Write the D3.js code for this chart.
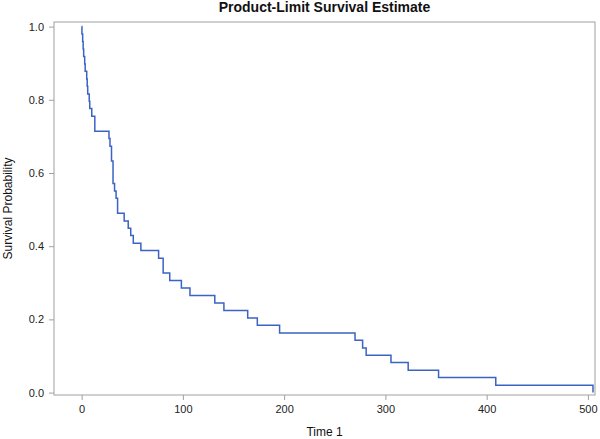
<!DOCTYPE html>
<html>
<head>
<meta charset="utf-8">
<script src="https://cdn.jsdelivr.net/npm/d3@7"></script>
<style>
  body { margin: 0; background: #fff; }
  #vis { width: 600px; height: 439px; }
  .axis text { font-family: "Liberation Sans", Arial, sans-serif; font-size: 11px; fill: #222; }
  .axis path, .axis line { stroke: #a0a0a0; }
</style>
</head>
<body>
<div id="vis"></div>
<script>
// event times and survival after each event
var eventTimes = [0, 0.3, 1, 1.5, 2, 3, 3.5, 5, 5.5, 6, 7.5, 8, 10, 13, 13,
  27, 28, 29.5, 29.5, 31, 31, 31, 32.5, 34, 35.5, 35.5, 42, 46, 48.5, 51, 58.5,
  76, 80.5, 80.5, 87, 98.5, 107, 131.5, 140.5, 164, 173.5, 195.5, 270, 277.5,
  281, 305.5, 322.5, 352.5, 409, 505];
var survival = [1, 0.980, 0.959, 0.939, 0.918, 0.898, 0.878, 0.857, 0.837, 0.816,
  0.796, 0.776, 0.755, 0.735, 0.714, 0.694, 0.673, 0.653, 0.633, 0.612, 0.592,
  0.571, 0.551, 0.531, 0.510, 0.490, 0.469, 0.449, 0.429, 0.408, 0.388, 0.367,
  0.347, 0.327, 0.306, 0.286, 0.265, 0.245, 0.224, 0.204, 0.184, 0.163, 0.143,
  0.122, 0.102, 0.082, 0.061, 0.041, 0.020, 0];
var xTicks = [0, 100, 200, 300, 400, 500];
var yTicks = [0, 0.2, 0.4, 0.6, 0.8, 1.0];

var width = 600, height = 439;
var margin = { top: 22, right: 5, bottom: 44, left: 54 };

var svg = d3.select('#vis')
  .append('svg')
  .attr('width', width)
  .attr('height', height);

var x_scale = d3.scaleLinear()
  .domain([-27.3, 507])
  .range([margin.left, width - margin.right]);

var y_scale = d3.scaleLinear()
  .domain([-0.0066, 1.0126])
  .range([height - margin.bottom, margin.top]);

// plot frame
svg.append('rect')
  .attr('x', margin.left)
  .attr('y', margin.top)
  .attr('width', width - margin.right - margin.left)
  .attr('height', height - margin.bottom - margin.top)
  .attr('fill', 'none')
  .attr('stroke', '#a0a0a0')
  .attr('stroke-width', 1);

var x_axis = d3.axisBottom(x_scale)
  .tickValues(xTicks)
  .tickFormat(d3.format('d'))
  .tickSizeOuter(0)
  .tickSize(5)
  .tickPadding(5);

var y_axis = d3.axisLeft(y_scale)
  .tickValues(yTicks)
  .tickFormat(d3.format('.1f'))
  .tickSizeOuter(0)
  .tickSize(5)
  .tickPadding(5);

svg.append('g')
  .attr('class', 'x axis')
  .attr('transform', 'translate(0,' + (height - margin.bottom) + ')')
  .call(x_axis)
  .select('.domain').remove();

svg.append('g')
  .attr('class', 'y axis')
  .attr('transform', 'translate(' + margin.left + ',0)')
  .call(y_axis)
  .select('.domain').remove();

var points = eventTimes.map(function(t, i) {
  return { t: t, s: survival[i] };
});

var line = d3.line()
  .x(function(d) { return x_scale(d.t); })
  .y(function(d) { return y_scale(d.s); })
  .curve(d3.curveStepAfter);

svg.append('path')
  .datum(points)
  .attr('fill', 'none')
  .attr('stroke', '#3b63c4')
  .attr('stroke-width', 1.5)
  .attr('d', line);

svg.append('text')
  .text('Product-Limit Survival Estimate')
  .attr('x', (margin.left + width - margin.right) / 2)
  .attr('y', 12)
  .attr('text-anchor', 'middle')
  .style('font-family', '"Liberation Sans", Arial, sans-serif')
  .style('font-weight', 'bold')
  .style('font-size', '14px')
  .style('fill', '#111');

svg.append('text')
  .text('Time 1')
  .attr('x', (margin.left + width - margin.right) / 2)
  .attr('y', 436)
  .attr('text-anchor', 'middle')
  .style('font-family', '"Liberation Sans", Arial, sans-serif')
  .style('font-size', '12px')
  .style('fill', '#111');

svg.append('text')
  .text('Survival Probability')
  .attr('transform', 'translate(12,' + ((margin.top + height - margin.bottom) / 2) + ')rotate(-90)')
  .attr('text-anchor', 'middle')
  .style('font-family', '"Liberation Sans", Arial, sans-serif')
  .style('font-size', '12px')
  .style('fill', '#111');
</script>
</body>
</html>
